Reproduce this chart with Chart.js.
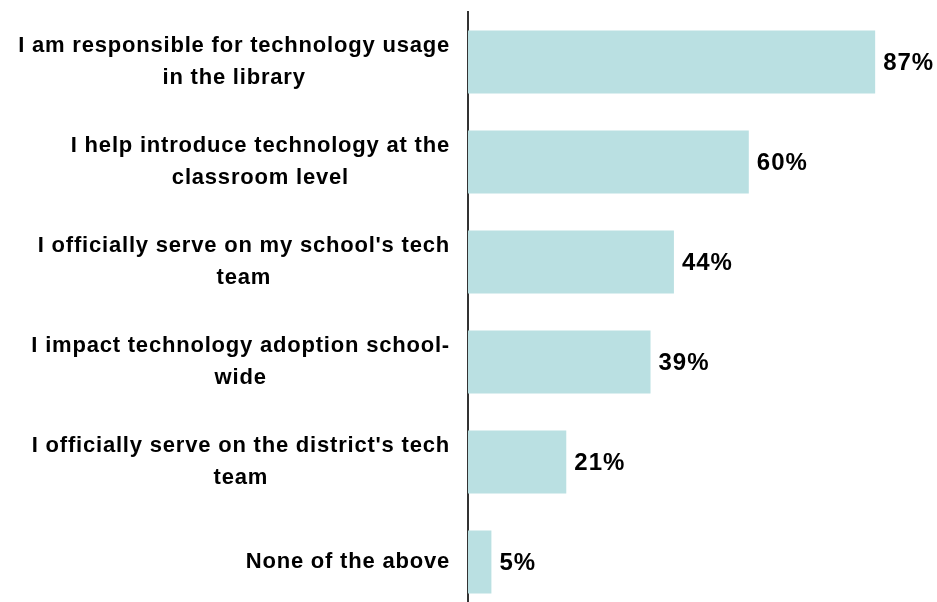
<!DOCTYPE html>
<html>
<head>
<meta charset="utf-8">
<title>Technology role</title>
<script src="https://cdn.jsdelivr.net/npm/chart.js@4/dist/chart.umd.min.js"></script>
<style>
  html, body { margin: 0; padding: 0; background: #fff; overflow: hidden; }
  #wrap { width: 937px; height: 612px; }
</style>
</head>
<body>
<div id="wrap"><canvas id="roleChart" width="937" height="612"></canvas></div>
<script>
'use strict';

// ********************* DATA *********************

let categories = [
  ['I am responsible for technology usage', 'in the library'],
  ['I help introduce technology at the', 'classroom level'],
  ['I officially serve on my school\'s tech', 'team'],
  ['I impact technology adoption school-', 'wide'],
  ['I officially serve on the district\'s tech', 'team'],
  ['None of the above']
];
let percentValues = [87, 60, 44, 39, 21, 5];
let axisMin = 0;
let axisMax = 100;

// ********************* STYLE *********************

let barColor = '#bae0e2';
let labelFont = 'bold 22px "Liberation Sans", Arial, sans-serif';
let valueFont = 'bold 24px "Liberation Sans", Arial, sans-serif';

// ******************* PLUGINS ***********************

// category labels, centred lines, block right-aligned to the axis
let categoryLabels = {
  id: 'categoryLabels',
  afterDraw(chart) {
    let ctx = chart.ctx;
    let yScale = chart.scales.y;
    let rightEdge = chart.chartArea.left - 18;
    let lineHeight = 31.5;
    ctx.save();
    ctx.font = labelFont;
    ctx.letterSpacing = '0.8px';
    ctx.fillStyle = '#000';
    ctx.textAlign = 'center';
    ctx.textBaseline = 'middle';
    for (let i = 0; i < categories.length; i++) {
      let lines = categories[i];
      let maxW = 0;
      for (let j = 0; j < lines.length; j++) {
        maxW = Math.max(maxW, ctx.measureText(lines[j]).width);
      }
      let cx = rightEdge - maxW / 2;
      let cy = yScale.getPixelForValue(i);
      let startY = cy - (lines.length - 1) * lineHeight / 2;
      for (let j = 0; j < lines.length; j++) {
        ctx.fillText(lines[j], cx, startY + j * lineHeight);
      }
    }
    ctx.restore();
  }
};

// value labels at the end of each bar
let valueLabels = {
  id: 'valueLabels',
  afterDatasetsDraw(chart) {
    let ctx = chart.ctx;
    let meta = chart.getDatasetMeta(0);
    ctx.save();
    ctx.font = valueFont;
    ctx.letterSpacing = '1px';
    ctx.fillStyle = '#000';
    ctx.textAlign = 'left';
    ctx.textBaseline = 'middle';
    meta.data.forEach((bar, i) => {
      ctx.fillText(percentValues[i] + '%', bar.x + 8, bar.y + 1);
    });
    ctx.restore();
  }
};

// ******************* RENDER CHART ***************************

let ctx = document.getElementById('roleChart');

new Chart(ctx, {
  type: 'bar',
  data: {
    labels: categories,
    datasets: [{
      data: percentValues,
      backgroundColor: barColor,
      borderWidth: 0,
      categoryPercentage: 1,
      barPercentage: 0.63
    }]
  },
  options: {
    indexAxis: 'y',
    responsive: false,
    animation: false,
    layout: { padding: { top: 12, right: 1, bottom: 0, left: 0 } },
    plugins: {
      legend: { display: false },
      tooltip: { enabled: false }
    },
    scales: {
      x: {
        display: false,
        min: axisMin,
        max: axisMax
      },
      y: {
        grid: { display: false, drawTicks: false },
        border: { display: true, color: '#333', width: 2 },
        ticks: { display: false },
        afterFit(scale) { scale.width = 468; }
      }
    }
  },
  plugins: [categoryLabels, valueLabels]
});
</script>
</body>
</html>
